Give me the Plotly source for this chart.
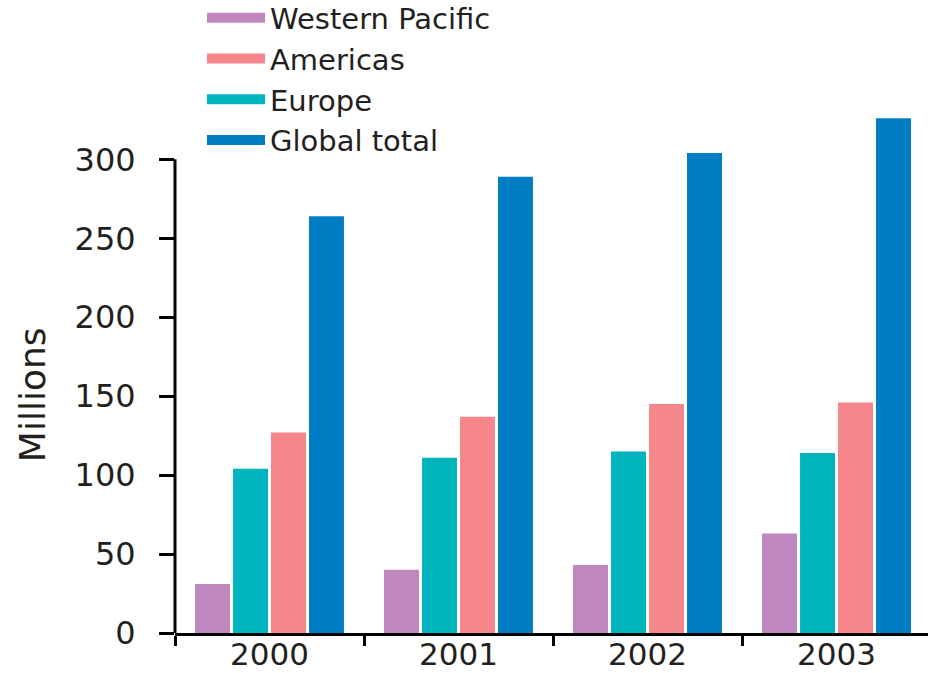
import plotly.graph_objects as go

years = ["2000", "2001", "2002", "2003"]
western_pacific = [31, 40, 43, 63]
europe = [104, 111, 115, 114]
americas = [127, 137, 145, 146]
global_total = [264, 289, 304, 326]

y_ticks = [0, 50, 100, 150, 200, 250, 300]

colors = {
    "Western Pacific": "#BF87BD",
    "Americas": "#F4868C",
    "Europe": "#00B4BE",
    "Global total": "#007DC3",
}

FONT = "DejaVu Sans, Liberation Sans, Arial, sans-serif"
TXT = "#231F20"

# pixel geometry
W, H = 928, 673
M_L, M_R, M_B = 175, 0, 40
Y_MAX = 330
PX_PER_UNIT = 474 / 300
plot_h = Y_MAX * PX_PER_UNIT
M_T = H - M_B - plot_h
axis_y = H - M_B

def paper_y(px):
    return (axis_y - px) / plot_h

def paper_x(px):
    return (px - M_L) / (W - M_L - M_R)

fig = go.Figure()

bar_order = [("Western Pacific", western_pacific), ("Europe", europe),
             ("Americas", americas), ("Global total", global_total)]
for name, vals in bar_order:
    fig.add_trace(go.Bar(x=years, y=vals, name=name, marker_color=colors[name],
                         marker_line_width=0, showlegend=False))

# legend entries (legend order differs from bar order)
for name in ["Western Pacific", "Americas", "Europe", "Global total"]:
    fig.add_trace(go.Scatter(x=[None], y=[None], mode="lines", name=name,
                             line=dict(color=colors[name], width=14)))

# y axis line only up to 300
fig.add_shape(type="line", xref="paper", yref="y", x0=0, x1=0, y0=0, y1=300,
              line=dict(color="black", width=3), layer="above")

fig.add_annotation(text="Millions", xref="paper", yref="paper",
                   x=paper_x(32), y=paper_y(395), textangle=-90, showarrow=False,
                   font=dict(size=36, color=TXT), xanchor="center", yanchor="middle")

fig.update_layout(
    width=W, height=H,
    margin=dict(l=M_L, r=M_R, t=M_T, b=M_B, autoexpand=False),
    paper_bgcolor="white", plot_bgcolor="white",
    barmode="group", bargap=0.196, bargroupgap=0.08,
    font=dict(family=FONT, color=TXT, size=32),
    legend=dict(x=paper_x(202), xanchor="left", y=paper_y(-8), yanchor="top",
                font=dict(size=29, color=TXT), itemwidth=58,
                bgcolor="rgba(0,0,0,0)", tracegroupgap=0),
    xaxis=dict(type="category", range=[-0.5, 3.484], showline=True,
               linecolor="black", linewidth=3, ticks="outside", tickson="boundaries",
               ticklen=10, tickwidth=3, tickcolor="black", showgrid=False,
               tickfont=dict(size=31, color=TXT), zeroline=False,
               ticklabelstandoff=-8),
    yaxis=dict(range=[0, Y_MAX], tickvals=y_ticks, showline=False,
               ticks="outside", ticklen=15, tickwidth=3, tickcolor="black",
               showgrid=False, zeroline=False, tickfont=dict(size=32, color=TXT),
               ticklabelstandoff=17),
)

fig.write_html("out.html")
